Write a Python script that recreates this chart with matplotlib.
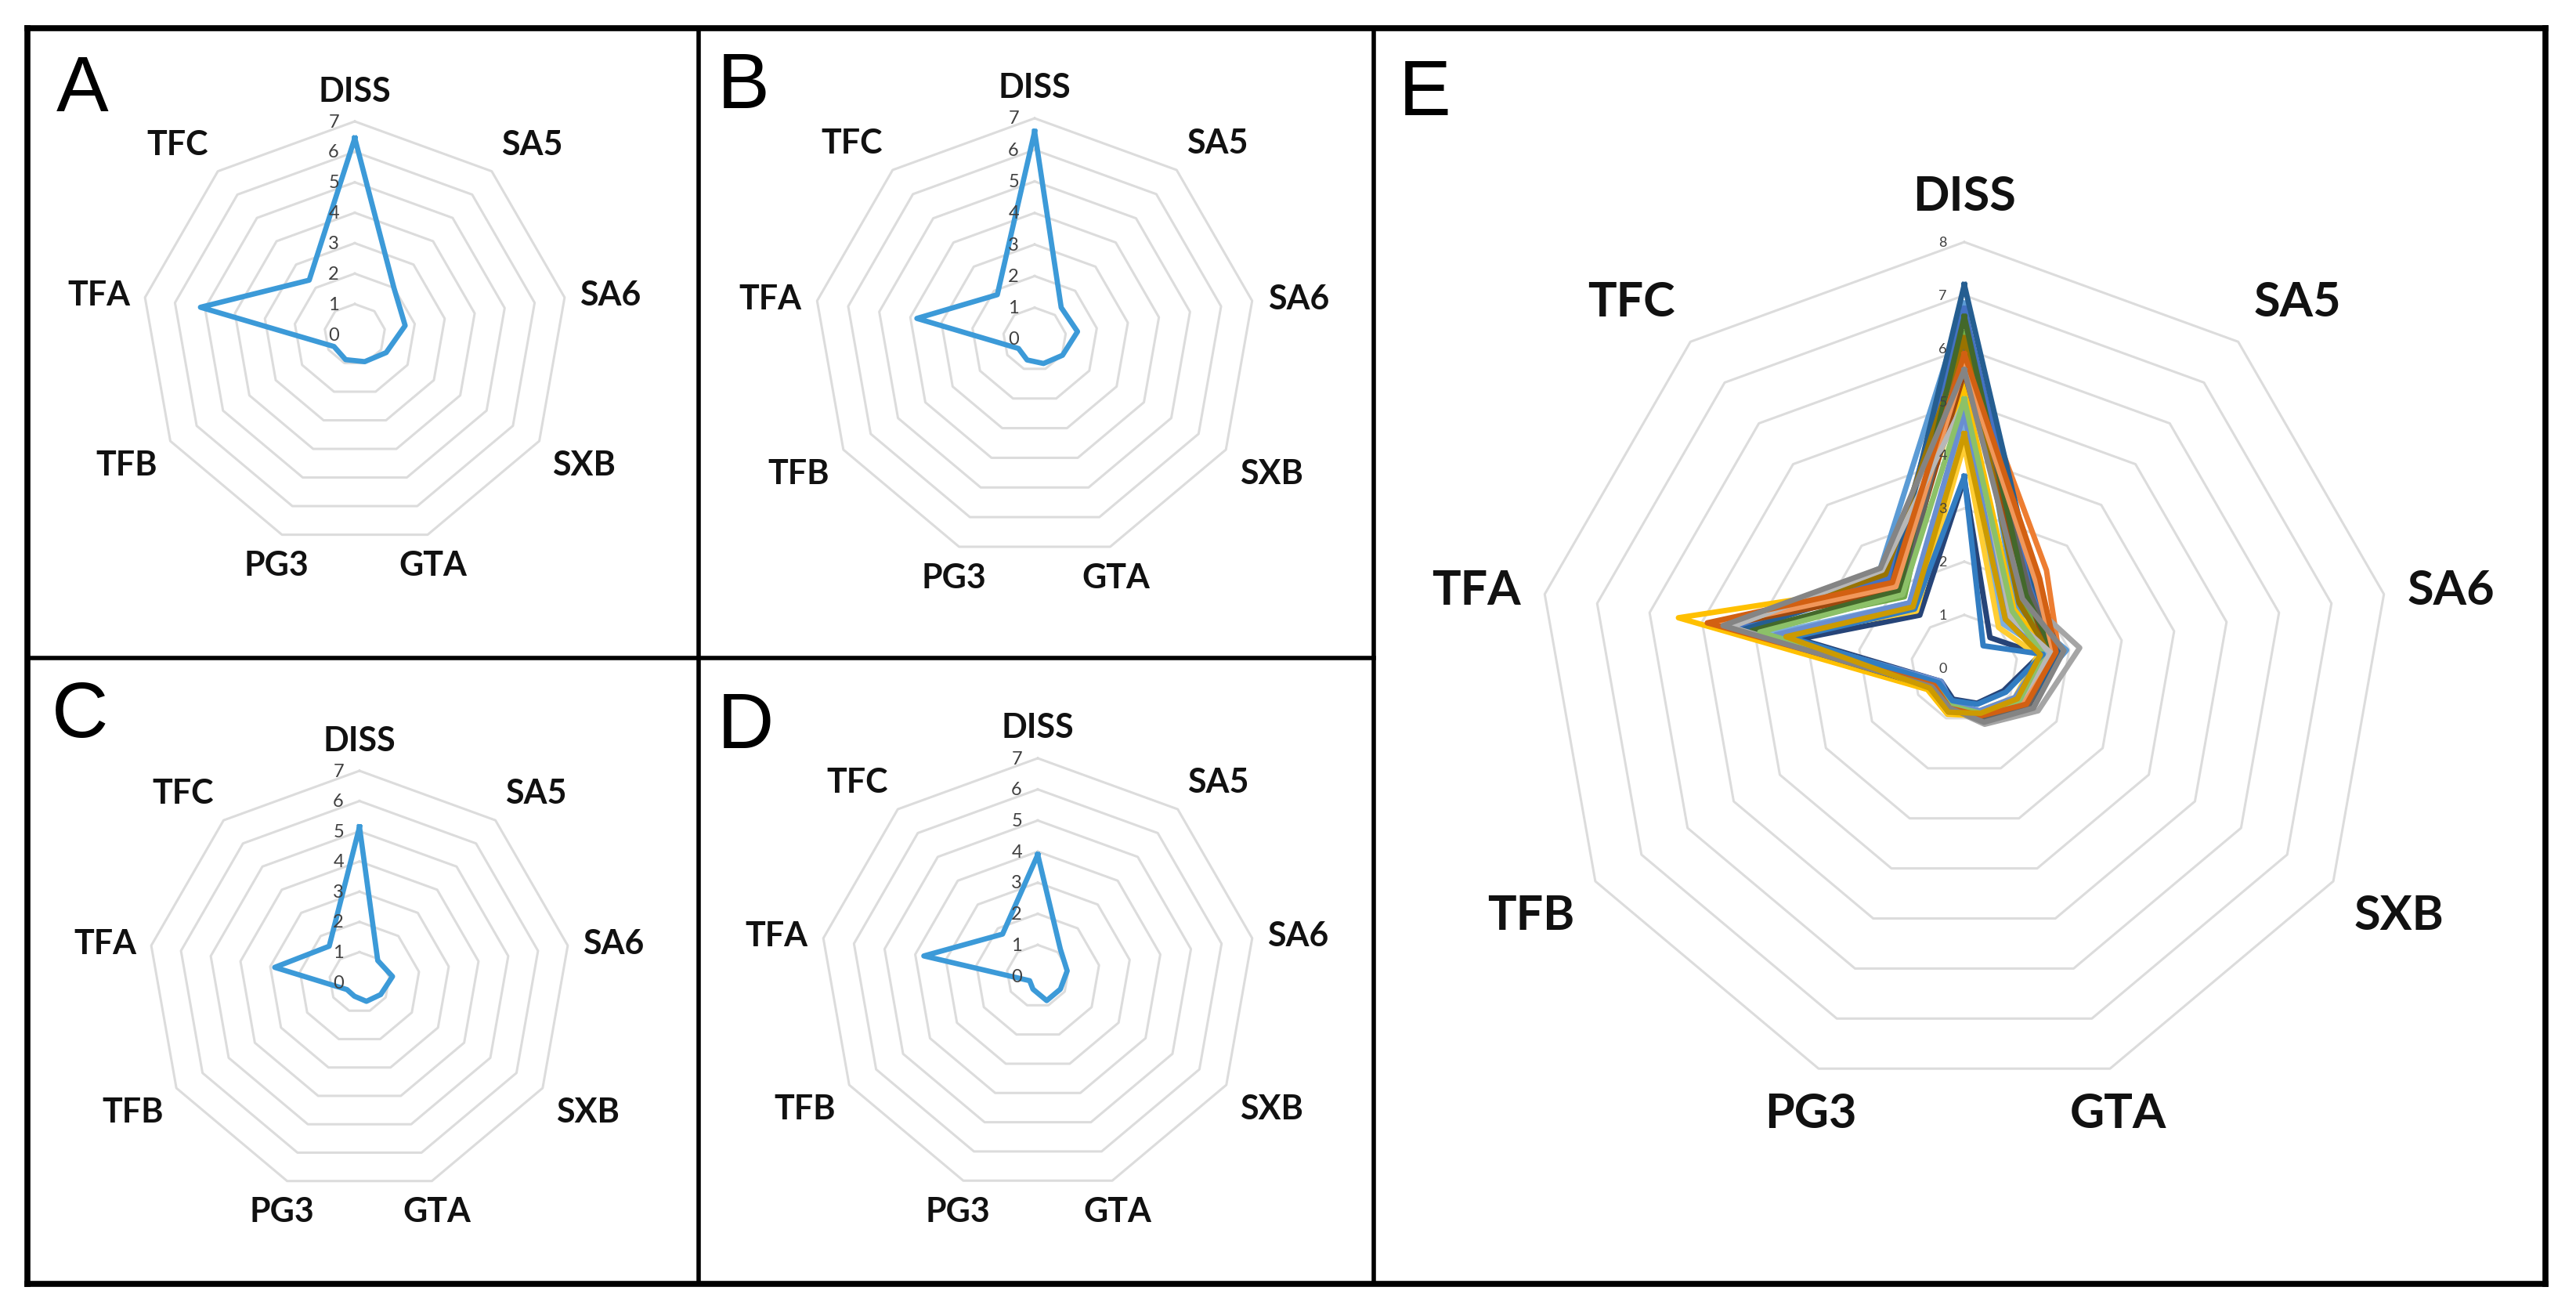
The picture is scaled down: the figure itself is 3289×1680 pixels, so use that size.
import numpy as np
import matplotlib
matplotlib.use("Agg")
import matplotlib.pyplot as plt
from matplotlib.lines import Line2D
from matplotlib.transforms import offset_copy

# ---------------- data ----------------
categories = ["DISS", "SA5", "SA6", "SXB", "GTA", "PG3", "TFB", "TFA", "TFC"]

panel_A = [6.45, 2.00, 1.68, 1.19, 0.95, 0.88, 0.79, 5.15, 2.33]
panel_B = [6.58, 1.31, 1.38, 1.02, 0.82, 0.70, 0.59, 3.79, 1.84]
panel_C = [5.14, 0.94, 1.11, 0.81, 0.67, 0.49, 0.48, 2.85, 1.56]
panel_D = [3.90, 1.13, 0.96, 0.84, 0.84, 0.45, 0.30, 3.72, 1.76]

ticks_small = [0, 1, 2, 3, 4, 5, 6, 7]
ticks_E = [0, 1, 2, 3, 4, 5, 6, 7, 8]

e_s01 = [6.85, 1.50, 1.95, 1.25, 0.90, 0.75, 0.60, 4.30, 2.45]
e_s02 = [6.00, 2.40, 1.80, 1.35, 1.00, 0.85, 0.70, 4.75, 1.95]
e_s03 = [5.80, 1.75, 2.20, 1.60, 1.12, 0.80, 0.72, 4.10, 2.35]
e_s04 = [5.30, 1.45, 1.60, 1.30, 0.95, 0.92, 0.80, 5.45, 2.05]
e_s05 = [6.75, 1.95, 1.70, 1.30, 0.95, 0.80, 0.62, 4.35, 2.20]
e_s06 = [6.30, 1.65, 1.75, 1.35, 1.00, 0.82, 0.66, 4.15, 1.75]
e_s07 = [7.20, 2.05, 1.80, 1.40, 0.95, 0.75, 0.60, 4.20, 2.10]
e_s08 = [5.55, 1.85, 1.60, 1.30, 0.95, 0.80, 0.60, 4.60, 1.90]
e_s09 = [6.10, 1.90, 1.70, 1.40, 1.00, 0.78, 0.60, 3.95, 1.80]
e_s10 = [6.20, 1.60, 1.62, 1.30, 0.90, 0.85, 0.72, 4.50, 2.30]
e_s11 = [3.55, 0.75, 1.45, 0.85, 0.70, 0.62, 0.50, 3.15, 1.30]
e_s12 = [6.60, 1.80, 1.70, 1.30, 0.95, 0.80, 0.60, 4.05, 1.90]
e_s13 = [4.55, 1.10, 1.60, 1.15, 0.90, 0.75, 0.55, 3.70, 1.60]
e_s14 = [5.70, 2.10, 1.70, 1.30, 0.90, 0.75, 0.60, 4.70, 2.00]
e_s15 = [5.00, 1.30, 1.65, 1.20, 0.90, 0.80, 0.70, 4.45, 2.40]
e_s16 = [4.20, 1.00, 1.40, 1.10, 0.85, 0.90, 0.75, 3.50, 1.40]
e_s17 = [4.80, 1.20, 1.50, 1.10, 0.85, 0.70, 0.50, 3.60, 1.60]
e_s18 = [5.05, 1.40, 1.50, 1.20, 0.90, 0.75, 0.60, 3.90, 1.80]
e_s19 = [3.60, 0.55, 1.50, 0.90, 0.72, 0.65, 0.55, 3.30, 1.45]
e_s20 = [5.90, 2.20, 1.75, 1.35, 0.95, 0.80, 0.65, 4.90, 2.10]
e_s21 = [5.60, 1.70, 1.90, 1.50, 1.08, 0.80, 0.70, 4.60, 2.45]
e_s22 = [4.40, 1.20, 1.45, 1.15, 0.90, 0.88, 0.75, 3.40, 1.50]

e_series = [e_s01, e_s02, e_s03, e_s04, e_s05, e_s06, e_s07, e_s08, e_s09, e_s10, e_s11,
            e_s12, e_s13, e_s14, e_s15, e_s16, e_s17, e_s18, e_s19, e_s20, e_s21, e_s22]
e_colors = ["#5B9BD5", "#ED7D31", "#A5A5A5", "#FFC000", "#4472C4", "#70AD47",
            "#255E91", "#9E480E", "#636363", "#997300", "#264478", "#43682B",
            "#7CAFDD", "#F1975A", "#B7B7B7", "#FFCD33", "#698ED0", "#8CC168",
            "#327DC2", "#D26012", "#848484", "#CC9A00"]

# ---------------- figure ----------------
W, H = 3289, 1681
fig = plt.figure(figsize=(W / 100, H / 100), dpi=100)
fig.patch.set_facecolor("white")

LABEL_FONT = ["Lato", "DejaVu Sans"]
GRID_COLOR = "#DCDCDC"
TICK_COLOR = "#404040"
LINE_COLOR = "#3C9AD8"

n = len(categories)
theta = np.linspace(0, 2 * np.pi, n, endpoint=False)
theta_closed = np.append(theta, theta[0])


def make_radar(cx, cy, rpx, rmax, ticks, label_r, label_size, tick_size, tick_dx):
    lim = rmax + 0.4
    ax_r = rpx * lim / rmax
    ax = fig.add_axes([(cx - ax_r) / W, (H - cy - ax_r) / H, 2 * ax_r / W, 2 * ax_r / H],
                      projection="polar")
    ax.set_theta_zero_location("N")
    ax.set_theta_direction(-1)
    ax.set_ylim(0, lim)
    ax.axis("off")
    for k in ticks[1:]:
        ax.plot(theta_closed, [k] * (n + 1), color=GRID_COLOR, lw=2.2, zorder=1, clip_on=False)
    tr = offset_copy(ax.transData, fig=fig, x=-tick_dx, y=0, units="dots")
    for k in ticks:
        ax.text(0, k, str(k), transform=tr, ha="right", va="center",
                fontsize=tick_size, color=TICK_COLOR, family=LABEL_FONT, zorder=5)
    for t, name in zip(theta, categories):
        s, c = np.sin(t), np.cos(t)
        ha = "center" if abs(s) < 0.5 else ("left" if s > 0 else "right")
        va = "bottom" if c > 0.5 else ("top" if c < -0.4 else "center")
        ax.text(t, label_r, name, ha=ha, va=va, fontsize=label_size,
                fontweight="bold", family=LABEL_FONT, color="#111111")
    return ax


def close(v):
    return list(v) + [v[0]]


panels = [
    (panel_A, 453, 428, 272),
    (panel_B, 1321, 434, 282),
    (panel_C, 459, 1255, 270),
    (panel_D, 1325, 1247, 278),
]
for vals, cx, cy, rpx in panels:
    ax = make_radar(cx, cy, rpx, 7, ticks_small, 7.5, 31, 17, 20)
    ax.plot(theta_closed, close(vals), color=LINE_COLOR, lw=4.8, zorder=3, clip_on=False)

axE = make_radar(2508, 854, 544, 8, ticks_E, 8.45, 44, 13, 22)
for vals, col in zip(e_series, e_colors):
    axE.plot(theta_closed, close(vals), color=col, lw=5.0, zorder=3, clip_on=False)

# ---------------- frame lines ----------------
def hline(y, x0, x1, lw):
    fig.add_artist(Line2D([x0 / W, x1 / W], [1 - y / H, 1 - y / H], color="black", lw=lw,
                          transform=fig.transFigure, solid_capstyle="projecting"))


def vline(x, y0, y1, lw):
    fig.add_artist(Line2D([x / W, x / W], [1 - y0 / H, 1 - y1 / H], color="black", lw=lw,
                          transform=fig.transFigure, solid_capstyle="projecting"))


hline(37, 35, 3250, 5.5)
hline(1640, 35, 3250, 5.5)
vline(35, 37, 1640, 5.5)
vline(3250, 37, 1640, 5.5)
vline(892, 37, 1640, 4.0)
vline(1754, 37, 1640, 4.0)
hline(841, 35, 1754, 4.0)

# ---------------- panel letters ----------------
letters = [("A", 72, 142), ("B", 916, 138), ("C", 66, 941), ("D", 916, 955), ("E", 1786, 147)]
for ch, x, y in letters:
    fig.text(x / W, 1 - y / H, ch, fontsize=72, family=["Liberation Sans", "DejaVu Sans"],
             ha="left", va="baseline", color="black")

fig.savefig("out.png", dpi=100, facecolor="white")
